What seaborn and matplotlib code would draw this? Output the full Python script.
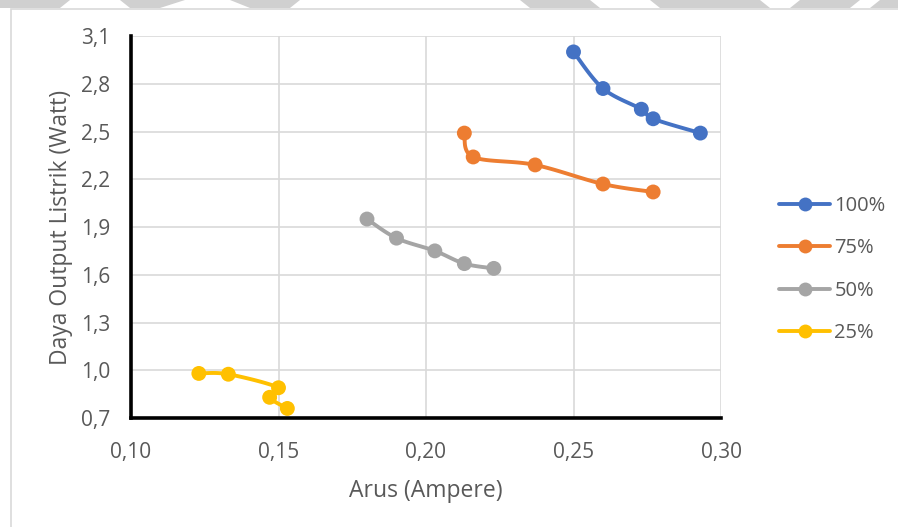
import numpy as np
import pandas as pd
import seaborn as sns
import matplotlib
matplotlib.use("Agg")
import matplotlib.pyplot as plt
from matplotlib.lines import Line2D
from matplotlib.patches import Polygon, Rectangle

# Measured current (A) and electrical output power (W) per load level
series_names = ["100%", "75%", "50%", "25%"]
arus_100 = [0.250, 0.260, 0.273, 0.277, 0.293]
daya_100 = [3.00, 2.77, 2.64, 2.58, 2.49]
arus_75 = [0.213, 0.216, 0.237, 0.260, 0.277]
daya_75 = [2.49, 2.34, 2.29, 2.17, 2.12]
arus_50 = [0.180, 0.190, 0.203, 0.213, 0.223]
daya_50 = [1.95, 1.83, 1.75, 1.67, 1.64]
arus_25 = [0.123, 0.133, 0.150, 0.147, 0.153]
daya_25 = [0.98, 0.975, 0.89, 0.83, 0.76]

x_ticks = [0.10, 0.15, 0.20, 0.25, 0.30]
y_ticks = [0.7, 1.0, 1.3, 1.6, 1.9, 2.2, 2.5, 2.8, 3.1]
colors = ["#4472C4", "#ED7D31", "#A5A5A5", "#FFC000"]

df = pd.DataFrame({
    "series": sum([[n] * 5 for n in series_names], []),
    "arus": arus_100 + arus_75 + arus_50 + arus_25,
    "daya": daya_100 + daya_75 + daya_50 + daya_25,
})

sns.set_theme(style="white")
plt.rcParams["font.family"] = ["Open Sans", "DejaVu Sans"]
text_color = "#595959"

fig = plt.figure(figsize=(8.98, 5.27), dpi=100)
ax = fig.add_axes([131 / 898, 1 - 418 / 527, 590 / 898, 382 / 527])

# page watermark fragments above the chart frame
for x0, x1, x2, x3 in [(0, 70, 60, 0), (120, 185, 160, 130), (230, 300, 290, 250),
                       (520, 590, 600, 530), (650, 760, 770, 660), (800, 860, 850, 790),
                       (880, 898, 898, 870)]:
    fig.patches.append(Polygon([(x0 / 898, 1), (x1 / 898, 1), (x2 / 898, 1 - 8 / 527),
                                (x3 / 898, 1 - 8 / 527)], closed=True,
                               transform=fig.transFigure, facecolor="#D0D0D0",
                               edgecolor="none", zorder=0))
# chart area frame
fig.patches.append(Rectangle((11 / 898, -0.05), 1.0, 1 - 9 / 527 + 0.05,
                             transform=fig.transFigure, facecolor="none",
                             edgecolor="#D9D9D9", lw=1.2, zorder=1))

ax.set_xlim(0.10, 0.30)
ax.set_ylim(0.7, 3.1)
ax.set_xticks(x_ticks)
ax.set_yticks(y_ticks)
ax.set_xticklabels([f"{v:.2f}".replace(".", ",") for v in x_ticks])
ax.set_yticklabels([f"{v:.1f}".replace(".", ",") for v in y_ticks])
ax.grid(True, color="#D9D9D9", lw=1.2)
ax.set_axisbelow(True)
for side in ["top", "right"]:
    ax.spines[side].set_visible(False)
for side in ["left", "bottom"]:
    ax.spines[side].set_color("black")
    ax.spines[side].set_linewidth(2.6)
    ax.spines[side].set_zorder(2.5)
ax.tick_params(axis="both", length=0, labelsize=15, labelcolor=text_color)
ax.tick_params(axis="x", pad=17)
ax.tick_params(axis="y", pad=15)


def smooth_path(xs, ys, n=24):
    """Bezier smoothing through the points, computed in display space."""
    pts = ax.transData.transform(np.column_stack([xs, ys]))
    out = [pts[0]]
    m = len(pts)
    for i in range(m - 1):
        p0 = pts[i - 1] if i > 0 else pts[i]
        p1, p2 = pts[i], pts[i + 1]
        p3 = pts[i + 2] if i + 2 < m else pts[i + 1]
        c1 = p1 + (p2 - p0) / 6.0
        c2 = p2 - (p3 - p1) / 6.0
        t = np.linspace(0, 1, n)[1:, None]
        seg = ((1 - t) ** 3) * p1 + 3 * ((1 - t) ** 2) * t * c1 + 3 * (1 - t) * t ** 2 * c2 + t ** 3 * p2
        out.extend(seg)
    out = np.array(out)
    return ax.transData.inverted().transform(out)


for name, col in zip(series_names, colors):
    sub = df[df["series"] == name]
    curve = smooth_path(sub["arus"].to_numpy(), sub["daya"].to_numpy())
    ax.plot(curve[:, 0], curve[:, 1], color=col, lw=2.8, solid_capstyle="round", zorder=3)

sns.scatterplot(data=df, x="arus", y="daya", hue="series", palette=colors,
                hue_order=series_names, s=115, edgecolor="none", legend=False,
                ax=ax, zorder=4)
ax.set_xlabel("Arus (Ampere)", fontsize=16.5, color=text_color, labelpad=12)
ax.set_ylabel("Daya Output Listrik (Watt)", fontsize=16.5, color=text_color, labelpad=6)

handles = [Line2D([0], [0], color=c, lw=2.8, marker="o", ms=10, mec="none")
           for c in colors]
leg = fig.legend(handles, series_names, loc="center left",
                 bbox_to_anchor=(779 / 898, 1 - 269.5 / 527), frameon=False,
                 fontsize=14.5, handlelength=2.55, handletextpad=0.2,
                 labelspacing=1.1, borderpad=0, borderaxespad=0)
for t in leg.get_texts():
    t.set_color(text_color)

fig.savefig("out.png", dpi=100)
